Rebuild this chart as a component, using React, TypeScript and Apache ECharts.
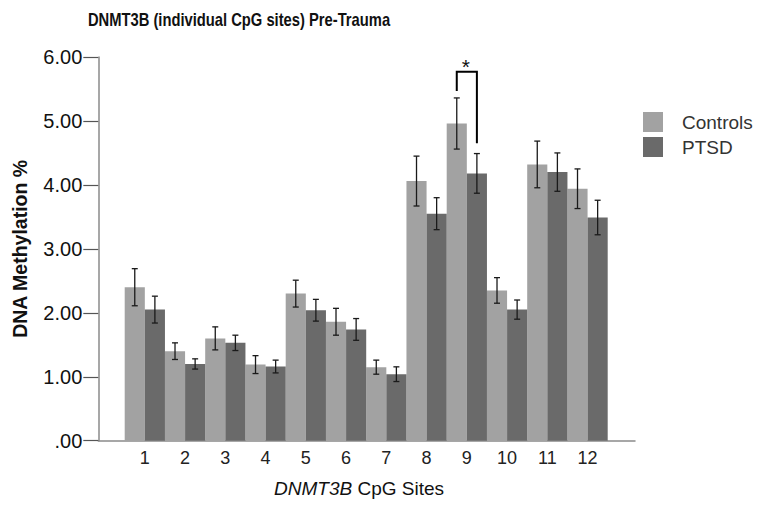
import React, { useEffect, useRef } from "react";
import * as echarts from "echarts";

const sites = ["1", "2", "3", "4", "5", "6", "7", "8", "9", "10", "11", "12"];
const controlsMean = [2.40, 1.40, 1.60, 1.19, 2.30, 1.86, 1.15, 4.06, 4.96, 2.35, 4.32, 3.94];
const controlsErr = [0.29, 0.13, 0.18, 0.14, 0.21, 0.21, 0.11, 0.39, 0.40, 0.20, 0.365, 0.31];
const ptsdMean = [2.05, 1.20, 1.53, 1.16, 2.04, 1.74, 1.04, 3.55, 4.18, 2.05, 4.20, 3.49];
const ptsdErr = [0.21, 0.08, 0.12, 0.10, 0.17, 0.17, 0.115, 0.25, 0.31, 0.15, 0.30, 0.27];
const yTicks = [0, 1, 2, 3, 4, 5, 6];
// significance bracket: [category index, left bottom, top, right bottom]
const bracket = [[8, 5.47, 5.77, 4.65]];

const FONT = "'Liberation Sans', Arial, sans-serif";
const C_COLOR = "#a2a2a2";
const P_COLOR = "#6a6a6a";

export default function App() {
  const ref = useRef<HTMLDivElement>(null);
  useEffect(() => {
    if (!ref.current) return;
    const chart = echarts.init(ref.current, undefined, { renderer: "svg" });

    const errData = (means: number[], errs: number[]) =>
      means.map((m, i) => [i, m - errs[i], m + errs[i]]);

    const makeErr = (offsetSign: number) => (params: any, api: any) => {
      const idx = api.value(0);
      const lo = api.coord([idx, api.value(1)]);
      const hi = api.coord([idx, api.value(2)]);
      const band = api.size([1, 0])[0];
      const x = lo[0] + offsetSign * band / 4;
      const cap = 3;
      const style = { stroke: "#1a1a1a", lineWidth: 1.3, fill: "none" };
      return {
        type: "group",
        children: [
          { type: "line", shape: { x1: x, y1: lo[1], x2: x, y2: hi[1] }, style },
          { type: "line", shape: { x1: x - cap, y1: lo[1], x2: x + cap, y2: lo[1] }, style },
          { type: "line", shape: { x1: x - cap, y1: hi[1], x2: x + cap, y2: hi[1] }, style },
        ],
      };
    };

    chart.setOption({
      animation: false,
      textStyle: { fontFamily: FONT },
      legend: {
        data: ["Controls", "PTSD"],
        orient: "vertical",
        left: 643,
        top: 112,
        padding: 0,
        icon: "rect",
        itemWidth: 20,
        itemHeight: 20,
        itemGap: 5,
        textStyle: { fontFamily: FONT, fontSize: 19, color: "#333", padding: [0, 0, 0, 14] },
      },
      grid: [
        { left: 124.7, right: 156.3, top: 57, bottom: 67.3 },
        { left: 98.3, right: 129, top: 57, bottom: 67.3 },
      ],
      xAxis: [
        {
          type: "category",
          gridIndex: 0,
          data: sites,
          axisLine: { show: false },
          axisTick: { show: false },
          axisLabel: { fontFamily: FONT, fontSize: 18, color: "#222", margin: 8 },
        },
        {
          type: "value",
          gridIndex: 1,
          min: 0,
          max: 1,
          axisLine: { show: true, lineStyle: { color: "#8a8a8a", width: 1.5 } },
          axisTick: { show: false },
          axisLabel: { show: false },
          splitLine: { show: false },
        },
      ],
      yAxis: [
        {
          type: "value",
          gridIndex: 0,
          min: 0,
          max: 6,
          interval: 1,
          show: false,
          splitLine: { show: false },
        },
        {
          type: "value",
          gridIndex: 1,
          min: 0,
          max: 6,
          interval: 1,
          name: "DNA Methylation %",
          nameLocation: "middle",
          nameGap: 68,
          nameTextStyle: { fontFamily: FONT, fontWeight: "bold", fontSize: 19.5, color: "#111" },
          axisLine: { show: true, lineStyle: { color: "#8a8a8a", width: 1.5 } },
          axisTick: { show: true, length: 15, lineStyle: { color: "#555", width: 1.2 } },
          axisLabel: {
            fontFamily: FONT,
            fontSize: 20,
            color: "#111",
            margin: 16,
            formatter: (v: number) => (yTicks.includes(v) ? (v === 0 ? ".00" : v.toFixed(2)) : ""),
          },
          splitLine: { show: false },
        },
      ],
      graphic: [
        {
          type: "text",
          x: 239,
          y: 19,
          scaleX: 0.82,
          style: {
            text: "DNMT3B (individual CpG sites) Pre-Trauma",
            align: "center",
            verticalAlign: "middle",
            fontFamily: FONT,
            fontWeight: "bold",
            fontSize: 18,
            fill: "#111",
          },
        },
        {
          type: "text",
          x: 359,
          y: 488,
          style: {
            text: "{i|DNMT3B} CpG Sites",
            align: "center",
            verticalAlign: "middle",
            fontFamily: FONT,
            fontSize: 19,
            fill: "#111",
            rich: {
              i: { fontStyle: "italic", fontFamily: FONT, fontSize: 19, fill: "#111" },
            },
          },
        },
      ],
      series: [
        {
          name: "Controls",
          type: "bar",
          xAxisIndex: 0,
          yAxisIndex: 0,
          data: controlsMean,
          barGap: "0%",
          barCategoryGap: "0%",
          itemStyle: { color: C_COLOR },
        },
        {
          name: "PTSD",
          type: "bar",
          xAxisIndex: 0,
          yAxisIndex: 0,
          data: ptsdMean,
          barGap: "0%",
          barCategoryGap: "0%",
          itemStyle: { color: P_COLOR },
        },
        {
          type: "custom",
          xAxisIndex: 0,
          yAxisIndex: 0,
          data: errData(controlsMean, controlsErr),
          renderItem: makeErr(-1),
          z: 5,
        },
        {
          type: "custom",
          xAxisIndex: 0,
          yAxisIndex: 0,
          data: errData(ptsdMean, ptsdErr),
          renderItem: makeErr(1),
          z: 5,
        },
        {
          type: "custom",
          xAxisIndex: 0,
          yAxisIndex: 0,
          data: bracket,
          z: 6,
          renderItem: (params: any, api: any) => {
            const idx = api.value(0);
            const band = api.size([1, 0])[0];
            const lb = api.coord([idx, api.value(1)]);
            const top = api.coord([idx, api.value(2)]);
            const rb = api.coord([idx, api.value(3)]);
            const xl = lb[0] - band / 4;
            const xr = lb[0] + band / 4;
            return {
              type: "group",
              children: [
                {
                  type: "polyline",
                  shape: { points: [[xl, lb[1]], [xl, top[1]], [xr, top[1]], [xr, rb[1]]] },
                  style: { stroke: "#000", lineWidth: 2, fill: "none" },
                },
                {
                  type: "text",
                  x: (xl + xr) / 2 - 1,
                  y: top[1] - 16,
                  style: {
                    text: "*",
                    align: "center",
                    verticalAlign: "top",
                    fontFamily: FONT,
                    fontSize: 21,
                    fill: "#111",
                  },
                },
              ],
            };
          },
        },
      ],
    });
    return () => chart.dispose();
  }, []);
  return <div ref={ref} style={{ width: 764, height: 508, position: "absolute", left: 0, top: 0 }} />;
}
